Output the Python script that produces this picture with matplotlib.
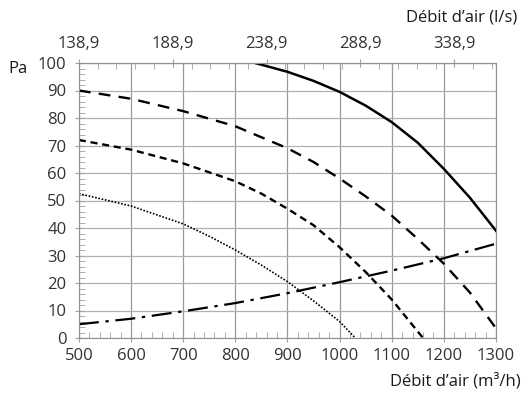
import matplotlib.pyplot as plt
from matplotlib.ticker import MultipleLocator, FixedLocator, FuncFormatter

plt.rcParams['font.family'] = ['Open Sans', 'DejaVu Sans']

# airflow (m3/h) and pressure (Pa) for each fan curve
q_max = [838, 900, 950, 1000, 1050, 1100, 1150, 1200, 1250, 1300]
p_max = [100, 96.8, 93.5, 89.5, 84.5, 78.5, 71, 61.5, 51, 39]

q_high = [500, 600, 700, 800, 900, 950, 1000, 1050, 1100, 1150, 1200, 1250, 1300]
p_high = [90, 87, 82.5, 77, 69, 64, 58, 51.5, 44.5, 36, 27, 16.5, 3.5]

q_mid = [500, 600, 700, 800, 850, 900, 950, 1000, 1050, 1100, 1160]
p_mid = [72, 68.5, 63.5, 57, 52.5, 47, 41, 33, 24, 14, 0]

q_low = [500, 600, 700, 750, 800, 850, 900, 950, 1000, 1030]
p_low = [52.5, 48, 41.5, 37, 32, 26.5, 20.5, 13.5, 6, 0]

q_sys = [500, 600, 700, 800, 900, 1000, 1100, 1200, 1300]
p_sys = [5, 7, 9.7, 12.7, 16.3, 20.3, 24.5, 29, 34.3]

top_ticks = [138.9, 188.9, 238.9, 288.9, 338.9]

fig = plt.figure(figsize=(5.26, 4.0), dpi=100)
ax = fig.add_axes([0.150, 0.155, 0.793, 0.6875])

ax.plot(q_max, p_max, color='black', lw=1.8, ls='-')
ax.plot(q_high, p_high, color='black', lw=1.7, ls=(0, (5, 3.5)))
ax.plot(q_mid, p_mid, color='black', lw=1.7, ls=(0, (3, 2)))
ax.plot(q_low, p_low, color='black', lw=1.2, ls=(0, (1, 1)))
ax.plot(q_sys, p_sys, color='black', lw=1.6, ls=(0, (9, 3, 1.5, 3)))

ax.set_xlim(500, 1300)
ax.set_ylim(0, 100)

ax.xaxis.set_major_locator(MultipleLocator(100))
ax.xaxis.set_minor_locator(MultipleLocator(20))
ax.yaxis.set_major_locator(MultipleLocator(10))
ax.yaxis.set_minor_locator(MultipleLocator(2))
ax.grid(True, which='major', axis='x', color='#999999', lw=0.9)
ax.grid(True, which='major', axis='y', color='#b0b0b0', lw=0.9)
ax.set_axisbelow(True)

ax.tick_params(which='major', direction='inout', length=6, color='#a0a0a0',
               labelsize=12, labelcolor='#333333')
ax.tick_params(axis='x', which='major', pad=4)
ax.tick_params(axis='y', which='major', pad=6)
ax.tick_params(which='minor', direction='in', length=4, color='#a0a0a0')
ax.tick_params(axis='x', which='both', bottom=True, top=False)
ax.tick_params(axis='y', which='both', left=True, right=False)
for s in ax.spines.values():
    s.set_color('#909090')

# airflow in l/s along the top edge
top = ax.secondary_xaxis('top', functions=(lambda q: q / 3.6, lambda l: l * 3.6))
top.xaxis.set_major_locator(FixedLocator(top_ticks))
top.xaxis.set_minor_locator(FixedLocator([138.9 + 10 * i for i in range(23)]))
top.xaxis.set_major_formatter(FuncFormatter(lambda v, p: f'{v:.1f}'.replace('.', ',')))
top.tick_params(which='major', direction='inout', length=6, color='#a0a0a0',
                labelsize=12, labelcolor='#333333', pad=5)
top.tick_params(which='minor', direction='in', length=4, color='#a0a0a0')
top.spines['top'].set_color('#909090')

fig.text(8 / 526, 1 - 69 / 400, 'Pa', fontsize=12, color='#1a1a1a', va='center', ha='left')
fig.text(517 / 526, 1 - 18 / 400, 'Débit d’air (l/s)', fontsize=12, color='#1a1a1a',
         va='center', ha='right')
fig.text(521 / 526, 1 - 381 / 400, 'Débit d’air (m³/h)', fontsize=12, color='#1a1a1a',
         va='center', ha='right')

fig.savefig('out.png', dpi=100)
